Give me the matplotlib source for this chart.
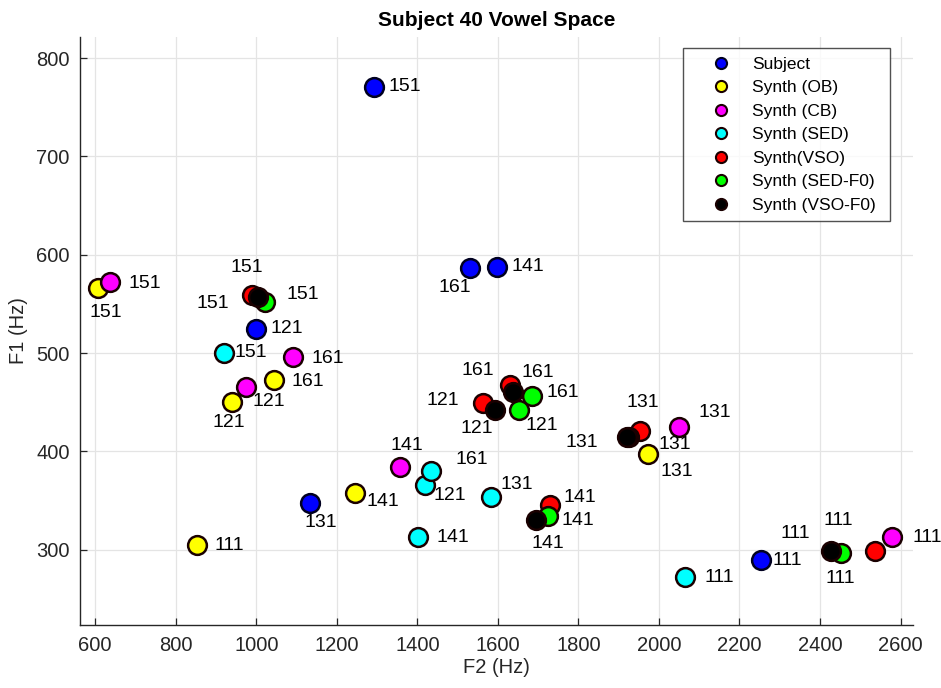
import matplotlib
matplotlib.use("Agg")
import matplotlib.pyplot as plt
from matplotlib.lines import Line2D

plt.rcParams["font.family"] = ["Liberation Sans", "DejaVu Sans"]

VOWELS = ["111", "121", "131", "141", "151", "161"]

SERIES = ["Subject", "Synth (OB)", "Synth (CB)", "Synth (SED)", "Synth(VSO)",
          "Synth (SED-F0)", "Synth (VSO-F0)"]

# F2 / F1 in Hz, in VOWELS order
F2_SUBJECT = [2253, 999, 1133, 1598, 1292, 1531]
F1_SUBJECT = [290, 525, 348, 588, 771, 587]
F2_OB = [853, 940, 1973, 1245, 607, 1044]
F1_OB = [305, 450, 397, 358, 566, 473]
F2_CB = [2579, 974, 2050, 1357, 637, 1091]
F1_CB = [313, 466, 425, 384, 572, 496]
F2_SED = [2065, 1419, 1583, 1402, 920, 1434]
F1_SED = [272, 366, 354, 313, 500, 380]
F2_VSO = [2537, 1563, 1953, 1730, 989, 1630]
F1_VSO = [299, 449, 421, 346, 559, 468]
F2_SED_F0 = [2453, 1652, 1925, 1725, 1022, 1685]
F1_SED_F0 = [297, 442, 415, 334, 552, 456]
F2_VSO_F0 = [2427, 1593, 1921, 1695, 1004, 1637]
F1_VSO_F0 = [299, 442, 415, 330, 557, 460]

F2 = [F2_SUBJECT, F2_OB, F2_CB, F2_SED, F2_VSO, F2_SED_F0, F2_VSO_F0]
F1 = [F1_SUBJECT, F1_OB, F1_CB, F1_SED, F1_VSO, F1_SED_F0, F1_VSO_F0]

COLORS = ["#0000ff", "#ffff00", "#ff00ff", "#00ffff", "#ff0000", "#00ff00", "#000000"]
EDGES = ["#000020", "#1a0000", "#1a0000", "#1a0000", "#1a0000", "#1a0000", "#1a0000"]

# label offsets from the marker, pixels (x right, y down), in VOWELS order
LABEL_OFFSETS = [
    [(27, 1), (31, 0), (11, 20), (31, 0), (31, 0), (-15, 20)],
    [(32, 1), (-3, 20), (29, 17), (28, 9), (8, 24), (34, 2)],
    [(35, 1), (23, 15), (36, -14), (7, -22), (35, 1), (35, 1)],
    [(34, 0), (25, 11), (26, -12), (35, 1), (27, -1), (41, -12)],
    [(-37, -30), (-40, -3), (3, -28), (30, -7), (-5, -28), (-32, -14)],
    [(-1, 26), (23, 15), (46, 8), (30, 4), (38, -7), (31, -4)],
    [(-36, -17), (-18, 18), (-45, 6), (12, 23), (-45, 6), (25, -20)],
]

TEXT = "#262626"

fig = plt.figure(figsize=(9.41, 6.88), dpi=100)
ax = fig.add_axes([79.5 / 941, 63 / 688, (913 - 79.5) / 941, (625 - 37) / 688])

for i, name in enumerate(SERIES):
    ax.plot(F2[i], F1[i], linestyle="none", marker="o", markersize=13.5,
            markerfacecolor=COLORS[i], markeredgecolor=EDGES[i],
            markeredgewidth=1.8, zorder=3 + i)
    for j, vowel in enumerate(VOWELS):
        dx, dy = LABEL_OFFSETS[i][j]
        ax.annotate(vowel, (F2[i][j], F1[i][j]), xytext=(dx, -dy),
                    textcoords="offset pixels", ha="center", va="center",
                    fontsize=14, color="black", zorder=20)

ax.set_xlim(561, 2631)
ax.set_ylim(223.5, 821.5)
ax.set_xticks(range(600, 2601, 200))
ax.set_yticks(range(300, 801, 100))
ax.grid(True, color="#e4e4e4", linewidth=0.9)
ax.set_axisbelow(True)
for side in ("top", "right"):
    ax.spines[side].set_visible(False)
for side in ("left", "bottom"):
    ax.spines[side].set_color(TEXT)
    ax.spines[side].set_linewidth(1.0)
ax.tick_params(direction="in", length=5, width=0.9, colors=TEXT,
               labelsize=14.5, labelcolor=TEXT)
ax.tick_params(axis="x", pad=8)
ax.tick_params(axis="y", pad=7)

ax.set_title("Subject 40 Vowel Space", fontsize=15, fontweight="bold", pad=8)
ax.set_xlabel("F2 (Hz)", fontsize=14.5, color=TEXT, labelpad=2)
ax.set_ylabel("F1 (Hz)", fontsize=14.5, color=TEXT, labelpad=6)

handles = [Line2D([], [], linestyle="none", marker="o", markersize=8,
                  markerfacecolor=COLORS[i], markeredgecolor=EDGES[i],
                  markeredgewidth=1.5) for i in range(len(SERIES))]
leg = ax.legend(handles, SERIES, loc="upper left",
                bbox_to_anchor=(683 / 941, 1 - 225 / 688, 207 / 941, 177 / 688),
                bbox_transform=fig.transFigure, borderaxespad=0, mode="expand",
                fontsize=12.5, frameon=True, fancybox=False,
                handletextpad=0.1, labelspacing=0.48, borderpad=0.5,
                handlelength=3.4)
leg.get_frame().set_edgecolor(TEXT)
leg.get_frame().set_linewidth(1.0)
leg.set_zorder(30)

fig.savefig("out.png", dpi=100)
